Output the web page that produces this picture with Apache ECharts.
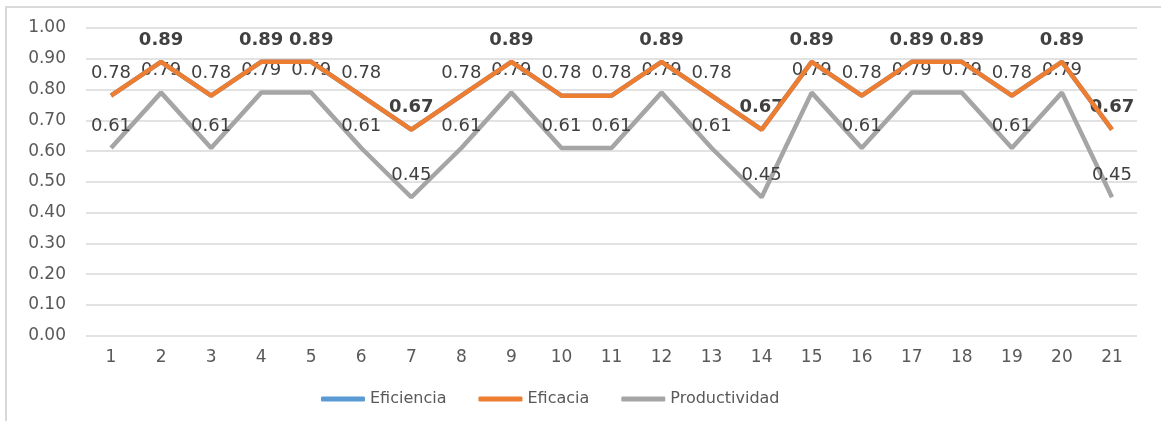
<!DOCTYPE html>
<html>
<head>
<meta charset="utf-8">
<script src="https://cdn.jsdelivr.net/npm/echarts@6/dist/echarts.min.js"></script>
<style>
  html, body { margin: 0; padding: 0; background: #fff; }
  #chart { width: 1161px; height: 421px; }
</style>
</head>
<body>
<div id="chart"></div>
<script>
// Categories and series values
const categories = ['1','2','3','4','5','6','7','8','9','10','11','12','13','14','15','16','17','18','19','20','21'];
const eficiencia = [0.78,0.89,0.78,0.89,0.89,0.78,0.67,0.78,0.89,0.78,0.78,0.89,0.78,0.67,0.89,0.78,0.89,0.89,0.78,0.89,0.67];
const eficacia = [0.78,0.89,0.78,0.89,0.89,0.78,0.67,0.78,0.89,0.78,0.78,0.89,0.78,0.67,0.89,0.78,0.89,0.89,0.78,0.89,0.67];
const productividad = [0.61,0.79,0.61,0.79,0.79,0.61,0.45,0.61,0.79,0.61,0.61,0.79,0.61,0.45,0.79,0.61,0.79,0.79,0.61,0.79,0.45];
const seriesNames = ['Eficiencia', 'Eficacia', 'Productividad'];

const FONT = '"DejaVu Sans", Verdana, sans-serif';
const chart = echarts.init(document.getElementById('chart'), null, { renderer: 'canvas' });

const fmt = v => v.toFixed(2);

// zero-size point markers: nothing visible, but each point carries its data label
const hiddenSymbol = { symbol: 'circle', symbolSize: 0, showSymbol: true };

function labelStyle(extra) {
  return Object.assign({
    show: true,
    position: 'top',
    distance: 13,
    fontFamily: FONT,
    fontSize: 18,
    color: '#404040'
  }, extra);
}

chart.setOption({
  animation: false,
  backgroundColor: '#ffffff',
  graphic: [{
    type: 'rect',
    shape: { x: 6, y: 7, width: 1170, height: 430 },
    style: { fill: 'none', stroke: '#d9d9d9', lineWidth: 2 },
    silent: true,
    z: -1
  }],
  grid: { left: 86, right: 24, top: 28, bottom: 85.3, containLabel: false },
  legend: {
    bottom: 9,
    left: 316,
    icon: 'roundRect',
    itemWidth: 44,
    itemHeight: 5,
    itemGap: 32,
    textStyle: { fontFamily: FONT, fontSize: 16, color: '#595959' },
    data: seriesNames
  },
  xAxis: {
    type: 'category',
    data: categories,
    boundaryGap: true,
    axisLine: { show: false },
    axisTick: { show: false },
    axisLabel: { fontFamily: FONT, fontSize: 17, color: '#595959', margin: 13 }
  },
  yAxis: {
    type: 'value',
    min: 0,
    max: 1,
    interval: 0.1,
    axisLine: { show: false },
    axisTick: { show: false },
    axisLabel: { fontFamily: FONT, fontSize: 17, color: '#595959', margin: 20, formatter: v => v.toFixed(2) },
    splitLine: { lineStyle: { color: '#d9d9d9', width: 1.5 } }
  },
  series: [
    Object.assign({
      name: 'Eficiencia',
      type: 'line',
      data: eficiencia,
      color: '#5B9BD5',
      lineStyle: { width: 4.5, color: '#5B9BD5' },
      z: 2,
      label: labelStyle({
        fontWeight: 'bold',
        formatter: p => (p.value === 0.78 ? '' : fmt(p.value))
      })
    }, hiddenSymbol),
    Object.assign({
      name: 'Eficacia',
      type: 'line',
      data: eficacia,
      color: '#ED7D31',
      lineStyle: { width: 4.5, color: '#ED7D31' },
      z: 3,
      label: labelStyle({
        formatter: p => (p.value === 0.78 ? fmt(p.value) : '')
      })
    }, hiddenSymbol),
    Object.assign({
      name: 'Productividad',
      type: 'line',
      data: productividad,
      color: '#A5A5A5',
      lineStyle: { width: 4.5, color: '#A5A5A5' },
      z: 1,
      label: labelStyle({
        formatter: p => fmt(p.value)
      })
    }, hiddenSymbol)
  ]
});
</script>
</body>
</html>
